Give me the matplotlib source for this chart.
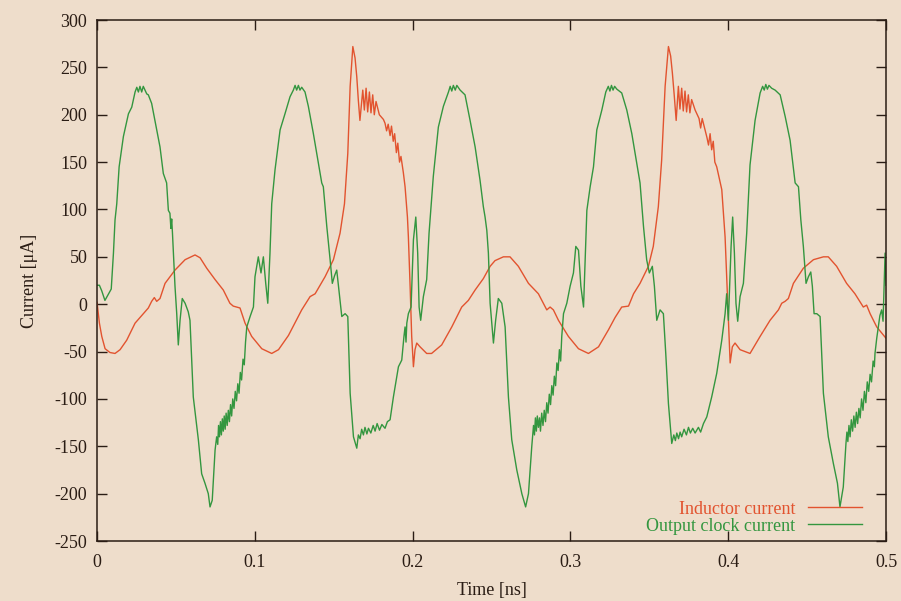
import matplotlib
matplotlib.use("Agg")
import matplotlib.pyplot as plt

# Inductor current (red)
inductor_t = [0.0, 0.0015, 0.003, 0.0051, 0.0082, 0.0114, 0.0146, 0.0188, 0.0241, 0.0293,
              0.0325, 0.0346, 0.0363, 0.0378, 0.0399, 0.0431, 0.0494, 0.0558, 0.0621, 0.0653,
              0.0695, 0.0748, 0.08, 0.0842, 0.0863, 0.0885, 0.0906, 0.0938, 0.098, 0.1044,
              0.1107, 0.115, 0.1213, 0.1297, 0.135, 0.1382, 0.1445, 0.1498, 0.154, 0.1568,
              0.1589, 0.1604, 0.1621, 0.1635, 0.1646, 0.1656, 0.1666, 0.1684, 0.1694, 0.1705,
              0.1715, 0.1726, 0.1736, 0.1747, 0.1757, 0.1768, 0.1789, 0.1815, 0.1825, 0.1835,
              0.1845, 0.1857, 0.1866, 0.1877, 0.1886, 0.1897, 0.1906, 0.1917, 0.1926, 0.1941,
              0.1952, 0.1967, 0.1973, 0.1984, 0.1994, 0.2005, 0.2015, 0.2026, 0.2047, 0.2089,
              0.212, 0.2184, 0.2248, 0.2311, 0.2353, 0.2396, 0.2448, 0.2491, 0.2522, 0.2575,
              0.2617, 0.267, 0.2734, 0.2797, 0.285, 0.2871, 0.2892, 0.2924, 0.2987, 0.3051,
              0.3114, 0.3178, 0.3241, 0.3283, 0.3325, 0.3368, 0.34, 0.3441, 0.3494, 0.3525,
              0.3557, 0.3578, 0.36, 0.3621, 0.3635, 0.3646, 0.3658, 0.367, 0.3684, 0.3694,
              0.3705, 0.3715, 0.3726, 0.3736, 0.3747, 0.3757, 0.3768, 0.379, 0.3815, 0.3825,
              0.3835, 0.3853, 0.3865, 0.3875, 0.3885, 0.3895, 0.3905, 0.3915, 0.3927, 0.3959,
              0.398, 0.3997, 0.4012, 0.4026, 0.4043, 0.4075, 0.4138, 0.4202, 0.4265, 0.4318,
              0.4339, 0.436, 0.4381, 0.4413, 0.4476, 0.454, 0.4603, 0.4634, 0.4687, 0.475,
              0.4803, 0.4856, 0.4877, 0.4899, 0.4941, 0.5]
inductor_i = [2, -20, -34, -47, -51, -52, -48, -38, -20, -10,
              -4, 3, 7, 3, 6, 22, 36, 47, 52, 49,
              38, 26, 15, 1, -2, -3, -4, -20, -34, -47,
              -52, -48, -33, -6, 8, 11, 29, 47, 75, 106,
              159, 230, 272, 260, 240, 215, 194, 226, 205, 228,
              203, 224, 202, 221, 200, 214, 200, 195, 191, 183,
              190, 178, 188, 172, 180, 160, 170, 150, 156, 139,
              124, 92, 71, 19, -34, -66, -48, -41, -45, -52,
              -52, -43, -24, -3, 4, 15, 27, 40, 46, 50,
              50, 40, 22, 11, -6, -3, -6, -17, -34, -47,
              -52, -45, -27, -14, -3, -2, 11, 22, 40, 61,
              103, 152, 230, 272, 262, 244, 220, 194, 230, 206,
              228, 204, 225, 203, 221, 202, 216, 205, 196, 186,
              196, 184, 176, 168, 180, 163, 172, 150, 145, 121,
              71, 1, -62, -45, -41, -48, -52, -34, -17, -6,
              1, 3, 6, 22, 38, 47, 50, 50, 40, 22,
              11, -3, -1, -10, -24, -36]

# Output clock current (green)
clock_t = [0.0, 0.0015, 0.003, 0.005, 0.007, 0.009, 0.0104, 0.0114, 0.0125, 0.014,
           0.0167, 0.0199, 0.022, 0.0241, 0.0252, 0.0262, 0.0272, 0.0283, 0.0293, 0.0304,
           0.0315, 0.0325, 0.0346, 0.0367, 0.0385, 0.0399, 0.042, 0.0441, 0.0452, 0.0462,
           0.0468, 0.0473, 0.0478, 0.0494, 0.0505, 0.0515, 0.0526, 0.054, 0.0558, 0.0578,
           0.0589, 0.061, 0.0642, 0.0663, 0.0684, 0.0705, 0.0716, 0.073, 0.0748, 0.0758,
           0.0765, 0.077, 0.0776, 0.0782, 0.0788, 0.0794, 0.08, 0.0806, 0.0812, 0.0818,
           0.0825, 0.0832, 0.0839, 0.0846, 0.0853, 0.086, 0.0868, 0.0876, 0.0884, 0.0892,
           0.09, 0.0908, 0.0916, 0.0925, 0.0933, 0.0941, 0.0949, 0.097, 0.0991, 0.1001,
           0.1022, 0.1039, 0.1054, 0.1069, 0.1082, 0.1096, 0.1107, 0.1128, 0.116, 0.1191,
           0.1223, 0.1244, 0.1255, 0.1265, 0.1276, 0.1286, 0.1297, 0.1318, 0.1339, 0.1371,
           0.1403, 0.1424, 0.1434, 0.1456, 0.1477, 0.1491, 0.1505, 0.1519, 0.153, 0.1551,
           0.1572, 0.1589, 0.1604, 0.1625, 0.1646, 0.1656, 0.1667, 0.1677, 0.1688, 0.1698,
           0.171, 0.172, 0.1735, 0.175, 0.1762, 0.1775, 0.179, 0.1805, 0.1825, 0.184,
           0.1857, 0.1878, 0.191, 0.1931, 0.1945, 0.1952, 0.1958, 0.1963, 0.1973, 0.199,
           0.2005, 0.202, 0.2032, 0.2041, 0.2051, 0.2068, 0.2089, 0.2104, 0.2131, 0.2163,
           0.2195, 0.2227, 0.2238, 0.2248, 0.2258, 0.227, 0.228, 0.2301, 0.2332, 0.2364,
           0.2396, 0.2427, 0.2448, 0.2459, 0.247, 0.248, 0.2491, 0.2512, 0.2526, 0.2543,
           0.2565, 0.2586, 0.2607, 0.2628, 0.266, 0.2692, 0.2716, 0.2734, 0.2755, 0.276,
           0.2766, 0.2772, 0.2778, 0.2784, 0.279, 0.2797, 0.2804, 0.281, 0.2818, 0.2826,
           0.2834, 0.2842, 0.285, 0.2858, 0.2866, 0.2874, 0.2882, 0.289, 0.2898, 0.2906,
           0.2914, 0.2922, 0.293, 0.2938, 0.2945, 0.2956, 0.2977, 0.2998, 0.3019, 0.3034,
           0.3051, 0.3066, 0.3083, 0.3104, 0.3125, 0.3146, 0.3167, 0.3199, 0.3224, 0.324,
           0.325, 0.326, 0.327, 0.328, 0.3294, 0.3325, 0.3357, 0.3389, 0.342, 0.3441,
           0.3463, 0.3483, 0.35, 0.3519, 0.3532, 0.3547, 0.3568, 0.3589, 0.3604, 0.3621,
           0.3642, 0.3655, 0.3665, 0.3674, 0.3685, 0.3695, 0.3705, 0.372, 0.3735, 0.3748,
           0.376, 0.3775, 0.379, 0.3811, 0.3825, 0.3843, 0.3864, 0.3895, 0.3927, 0.3959,
           0.398, 0.399, 0.4001, 0.4018, 0.4028, 0.4039, 0.4049, 0.406, 0.4075, 0.4096,
           0.4117, 0.4138, 0.417, 0.4202, 0.4218, 0.4228, 0.4238, 0.4248, 0.4258, 0.4275,
           0.4297, 0.4329, 0.4361, 0.4392, 0.4424, 0.4445, 0.446, 0.4476, 0.4493, 0.4508,
           0.4523, 0.4533, 0.4544, 0.4561, 0.4582, 0.4603, 0.4634, 0.4666, 0.4692, 0.4708,
           0.4729, 0.4746, 0.4752, 0.4758, 0.4765, 0.4772, 0.478, 0.4788, 0.4796, 0.4804,
           0.4812, 0.482, 0.4828, 0.4836, 0.4845, 0.4854, 0.4863, 0.4872, 0.4881, 0.489,
           0.4899, 0.4908, 0.4918, 0.4926, 0.493, 0.4941, 0.4951, 0.4961, 0.4972, 0.4981,
           0.4994, 0.5]
clock_i = [20, 20, 14, 4, 10, 16, 54, 89, 106, 145,
           177, 201, 208, 224, 229, 224, 230, 224, 230, 226,
           222, 221, 212, 194, 178, 166, 138, 128, 99, 96,
           80, 90, 75, 19, -10, -43, -17, 6, 1, -8,
           -17, -98, -143, -179, -189, -200, -214, -207, -154, -140,
           -148, -128, -140, -124, -138, -121, -134, -118, -132, -115,
           -128, -112, -124, -106, -118, -100, -110, -92, -102, -84,
           -94, -72, -80, -58, -64, -40, -24, -13, -3, 29,
           50, 33, 50, 22, 1, 54, 106, 142, 184, 201,
           219, 226, 231, 226, 231, 226, 229, 224, 209, 180,
           149, 128, 124, 82, 47, 22, 30, 36, 19, -13,
           -10, -13, -94, -140, -152, -138, -142, -132, -138, -130,
           -137, -131, -136, -128, -134, -126, -133, -127, -131, -124,
           -122, -98, -66, -59, -34, -24, -40, -20, -10, -3,
           68, 92, 54, -3, -17, 8, 26, 75, 135, 187,
           209, 224, 230, 225, 231, 226, 231, 226, 221, 194,
           166, 131, 103, 92, 78, 54, 1, -41, -17, 6,
           1, -24, -98, -143, -175, -200, -214, -200, -150, -140,
           -128, -138, -120, -134, -118, -130, -120, -134, -115, -128,
           -112, -124, -104, -115, -95, -106, -86, -96, -76, -86,
           -62, -70, -48, -60, -34, -10, 1, 19, 33, 61,
           57, 19, -3, 99, 124, 145, 184, 205, 224, 230,
           225, 231, 226, 230, 227, 223, 205, 180, 149, 128,
           82, 47, 33, 40, 19, -17, -6, -10, -52, -105,
           -147, -138, -144, -136, -142, -135, -140, -132, -138, -130,
           -136, -131, -136, -130, -135, -126, -119, -98, -73, -38,
           -10, 11, -17, 61, 92, 54, 1, -18, 8, 22,
           75, 147, 194, 223, 230, 226, 232, 227, 231, 228,
           226, 221, 198, 173, 128, 124, 89, 61, 22, 29,
           34, 19, -10, -10, -13, -94, -140, -168, -189, -214,
           -193, -147, -135, -145, -128, -140, -122, -134, -118, -130,
           -114, -126, -110, -120, -100, -112, -92, -104, -82, -92,
           -74, -82, -60, -66, -52, -36, -24, -12, -6, -18,
           54, 20]

x_ticks = [0, 0.1, 0.2, 0.3, 0.4, 0.5]
x_labels = ["0", "0.1", "0.2", "0.3", "0.4", "0.5"]
y_ticks = list(range(-250, 301, 50))

bg = "#EEDDCB"
ink = "#2a1c14"
red = "#E2532F"
green = "#33963F"

plt.rcParams["font.family"] = ["Liberation Serif", "DejaVu Serif"]
plt.rcParams["font.size"] = 13
plt.rcParams["axes.unicode_minus"] = False

fig = plt.figure(figsize=(9.01, 6.01), dpi=100, facecolor=bg)
ax = fig.add_axes([0.1077, 0.0998, 0.8757, 0.8669], facecolor=bg)

ax.plot(inductor_t, inductor_i, color=red, linewidth=1.0, label="Inductor current")
ax.plot(clock_t, clock_i, color=green, linewidth=1.0, label="Output clock current")

ax.set_xlim(0, 0.5)
ax.set_ylim(-250, 300)
ax.set_xticks(x_ticks)
ax.set_xticklabels(x_labels)
ax.set_yticks(y_ticks)
ax.tick_params(direction="in", length=7, width=1, colors=ink, top=True, right=True,
               labelcolor=ink, pad=7)
ax.tick_params(axis="x", pad=9)
for s in ax.spines.values():
    s.set_color(ink)
    s.set_linewidth(1.1)

ax.set_xlabel("Time [ns]", color=ink, labelpad=8)
ax.set_ylabel("Current [μA]", color=ink, labelpad=12)

leg = ax.legend(loc="lower right", bbox_to_anchor=(0.97, 0.012), frameon=False,
                markerfirst=False, handlelength=3.0, handletextpad=0.7,
                labelspacing=0.0, borderpad=0, borderaxespad=0,
                labelcolor="linecolor")

fig.savefig("out.png", dpi=100, facecolor=bg)
